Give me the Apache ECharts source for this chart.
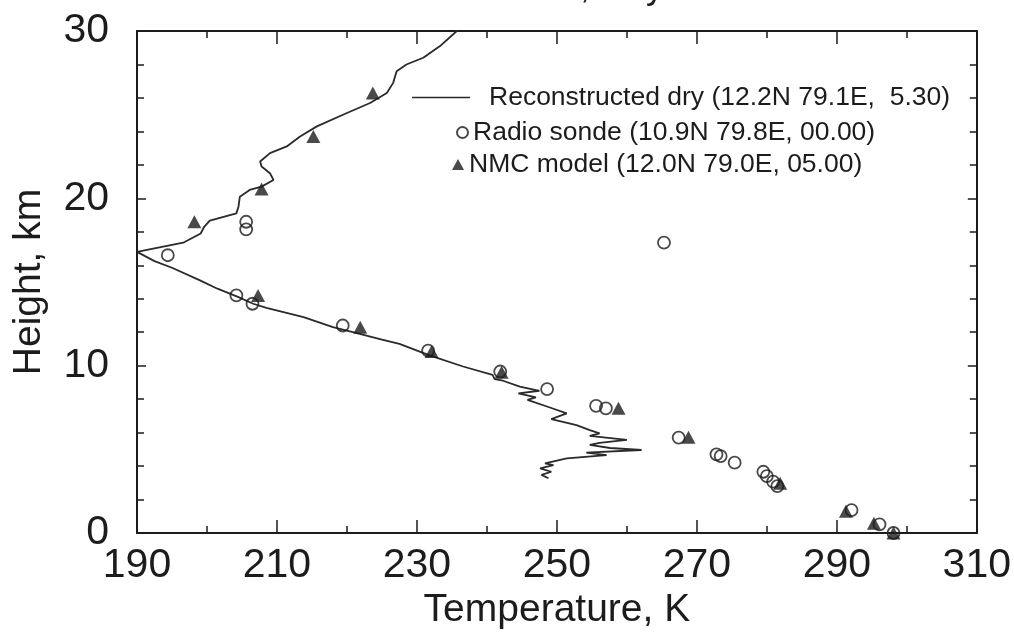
<!DOCTYPE html>
<html>
<head>
<meta charset="utf-8">
<script src="https://cdn.jsdelivr.net/npm/echarts@6/dist/echarts.min.js"></script>
<style>
html,body{margin:0;padding:0;background:#fff;}
#chart{width:1014px;height:641px;}
</style>
</head>
<body>
<div id="chart"></div>
<script>
// ---- data (temperature K, height km) ----
const seriesNames = [
  'Reconstructed dry (12.2N 79.1E,  5.30)',
  'Radio sonde (10.9N 79.8E, 00.00)',
  'NMC model (12.0N 79.0E, 05.00)'
];
const xTickLabels = [190, 210, 230, 250, 270, 290, 310];
const yTickLabels = [0, 10, 20, 30];

const reconstructedDry = [
  [235.7, 30.0], [233.3, 29.1], [230.9, 28.4], [228.5, 28.0], [227.1, 27.6],
  [226.6, 26.9], [225.7, 26.3], [223.3, 25.7], [220.0, 25.1], [215.7, 24.3],
  [213.3, 23.7], [211.4, 23.1], [209.0, 22.7], [207.6, 22.2], [207.8, 21.9],
  [209.0, 21.5], [209.5, 21.1], [207.8, 20.7], [206.1, 20.5], [204.7, 20.1],
  [204.5, 19.5], [204.2, 19.1], [200.4, 18.67], [199.6, 18.3], [199.1, 17.9],
  [196.6, 17.35], [190.0, 16.8],
  [192.5, 16.25], [195.0, 15.85], [199.0, 15.1], [201.5, 14.6], [204.5, 14.1],
  [206.6, 13.7], [208.5, 13.45], [213.8, 12.9], [218.0, 12.3], [221.4, 11.95],
  [225.0, 11.55], [227.5, 11.3], [231.9, 10.6], [236.6, 9.95], [240.8, 9.45],
  [241.1, 9.2], [242.3, 9.1],
  [244.7, 8.75], [247.5, 8.5], [244.5, 8.35], [247.0, 8.1], [245.8, 7.95],
  [249.0, 7.5], [251.4, 7.15], [249.2, 6.8], [252.8, 6.45], [254.7, 6.15],
  [256.1, 5.96], [254.7, 5.8], [260.0, 5.56], [256.1, 5.38], [254.7, 5.26],
  [257.6, 5.08], [262.1, 4.96], [254.2, 4.8], [257.1, 4.66], [251.4, 4.46],
  [248.3, 4.16], [249.5, 4.06], [247.6, 3.86], [249.2, 3.66], [247.8, 3.47],
  [248.8, 3.27]
];

const radioSonde = [
  [194.4, 16.6], [205.6, 18.6], [205.6, 18.15], [265.3, 17.35],
  [204.2, 14.2], [206.5, 13.7], [219.4, 12.4], [231.6, 10.9], [241.9, 9.65],
  [248.6, 8.6], [255.6, 7.6], [257.0, 7.45], [267.4, 5.7], [272.8, 4.7],
  [273.4, 4.6], [275.4, 4.2], [279.5, 3.66], [280.0, 3.4], [280.9, 3.07],
  [281.5, 2.8], [292.1, 1.37], [296.1, 0.52], [298.1, 0.0]
];

const nmcModel = [
  [198.2, 18.6], [207.8, 20.56], [215.2, 23.7], [223.7, 26.3],
  [207.3, 14.2], [221.9, 12.3], [232.1, 10.85], [242.1, 9.6],
  [258.8, 7.45], [268.8, 5.72], [281.9, 2.97], [291.3, 1.3],
  [295.3, 0.58], [298.1, 0.0]
];

const titleText = 'Madras, July 13';
const xName = 'Temperature, K';
const yName = 'Height, km';

// ---- chart ----
const ink = '#1c1c1c';
const numFont = "'Liberation Sans', Arial, sans-serif";
const txtFont = "'Liberation Sans', Arial, sans-serif";

const chart = echarts.init(document.getElementById('chart'), null, {renderer: 'canvas'});

const axisCommon = {
  type: 'value',
  axisLine: {show: true, onZero: false, lineStyle: {color: ink, width: 2}},
  splitLine: {show: false},
  axisTick: {show: true, inside: true, length: 13, lineStyle: {color: ink, width: 1.5}},
  minorTick: {show: true, splitNumber: 2, length: 7, lineStyle: {color: ink, width: 1.5}},
  minorSplitLine: {show: false}
};

const option = {
  backgroundColor: '#fff',
  animation: false,
  graphic: [{
    type: 'text',
    left: 460,
    top: -30,
    style: {text: titleText, font: '36px ' + txtFont, fill: ink}
  }],
  grid: {left: 137, right: 37, top: 31, bottom: 108, containLabel: false},
  legend: [
    {
      data: [seriesNames[0]], left: 412, top: 84, padding: 0,
      icon: 'rect', itemWidth: 58, itemHeight: 1.5,
      textStyle: {fontSize: 26.5, fontFamily: txtFont, color: ink, padding: [0, 0, 0, 14]},
      selectedMode: false
    },
    {
      data: [seriesNames[1]], left: 456, top: 119, padding: 0,
      icon: 'circle', itemWidth: 11, itemHeight: 11,
      textStyle: {fontSize: 26.5, fontFamily: txtFont, color: ink, padding: [0, 0, 0, 0]},
      selectedMode: false
    },
    {
      data: [seriesNames[2]], left: 452, top: 151, padding: 0,
      icon: 'triangle', itemWidth: 12, itemHeight: 11,
      textStyle: {fontSize: 26.5, fontFamily: txtFont, color: ink, padding: [0, 0, 0, 0]},
      selectedMode: false
    }
  ],
  xAxis: [
    Object.assign({}, axisCommon, {
      position: 'bottom', min: 190, max: 310, interval: 20,
      name: xName, nameLocation: 'middle', nameGap: 58,
      nameTextStyle: {fontSize: 39, fontFamily: txtFont, color: ink},
      axisLabel: {
        show: true, margin: 12, fontSize: 41, fontFamily: numFont, color: ink,
        showMinLabel: true, showMaxLabel: true,
        formatter: v => (xTickLabels.indexOf(v) >= 0 ? String(v) : '')
      }
    }),
    Object.assign({}, axisCommon, {
      position: 'top', min: 190, max: 310, interval: 20,
      axisLabel: {show: false}
    })
  ],
  yAxis: [
    Object.assign({}, axisCommon, {
      position: 'left', min: 0, max: 30, interval: 10,
      axisTick: {show: true, inside: true, length: 9, lineStyle: {color: ink, width: 1.5}},
      minorTick: {show: true, splitNumber: 5, length: 7, lineStyle: {color: ink, width: 1.5}},
      name: yName, nameLocation: 'middle', nameGap: 88, nameRotate: 90,
      nameTextStyle: {fontSize: 39, fontFamily: txtFont, color: ink},
      axisLabel: {
        show: true, margin: 28, fontSize: 41, fontFamily: numFont, color: ink,
        showMinLabel: true, showMaxLabel: true,
        formatter: v => (yTickLabels.indexOf(v) >= 0 ? String(v) : '')
      }
    }),
    Object.assign({}, axisCommon, {
      position: 'right', min: 0, max: 30, interval: 10,
      axisTick: {show: true, inside: true, length: 9, lineStyle: {color: ink, width: 1.5}},
      minorTick: {show: true, splitNumber: 5, length: 7, lineStyle: {color: ink, width: 1.5}},
      axisLabel: {show: false}
    })
  ],
  series: [
    {
      name: seriesNames[0], type: 'line', data: reconstructedDry,
      xAxisIndex: 0, yAxisIndex: 0,
      showSymbol: false, symbol: 'none', smooth: false,
      lineStyle: {color: '#2a2a2a', width: 1.8},
      itemStyle: {color: '#2a2a2a'},
      z: 2
    },
    {
      name: seriesNames[1], type: 'scatter', data: radioSonde,
      xAxisIndex: 0, yAxisIndex: 0, clip: false,
      symbol: 'circle', symbolSize: 12,
      itemStyle: {color: 'rgba(255,255,255,0)', borderColor: ink, borderWidth: 1.8},
      z: 3
    },
    {
      name: seriesNames[2], type: 'scatter', data: nmcModel,
      xAxisIndex: 0, yAxisIndex: 0, clip: false,
      symbol: 'triangle', symbolSize: [14, 13],
      itemStyle: {color: ink},
      z: 4
    }
  ]
};

chart.setOption(option);
</script>
</body>
</html>
